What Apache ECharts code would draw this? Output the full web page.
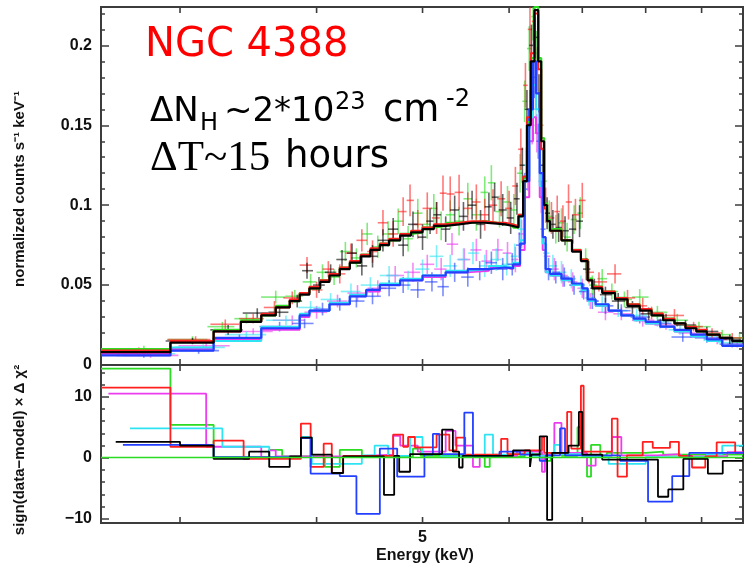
<!DOCTYPE html>
<html>
<head>
<meta charset="utf-8">
<script src="https://cdn.jsdelivr.net/npm/echarts@6/dist/echarts.min.js"></script>
<style>
  html, body { margin: 0; padding: 0; background: #fff; }
  #chart { width: 747px; height: 568px; }
</style>
</head>
<body>
<div id="chart"></div>
<script>
// energy axis (keV, log scale)
var energyTicks = [3, 4, 5, 6, 7, 8, 9];
var energyLabels = [5];
var countTicks = [0, 0.05, 0.1, 0.15, 0.2];
var countMinor = [0.01, 0.02, 0.03, 0.04, 0.06, 0.07, 0.08, 0.09, 0.11, 0.12, 0.13, 0.14, 0.16, 0.17, 0.18, 0.19, 0.21, 0.22];
var chiTicks = [-10, 0, 10];
var chiMinor = [-8, -6, -4, -2, 2, 4, 6, 8, 12, 14];

/* ---- data points: energy, normalized counts, 1 sigma error ---- */
var blackE = [2.75,3.08,3.32,3.53,3.70,3.84,3.92,4.02,4.12,4.22,4.31,4.40,4.50,4.60,4.70,4.80,4.90,5.00,5.08,5.15,5.25,5.35,5.45,5.55,5.65,5.75,5.82,5.92,6.02,6.10,6.17,6.23,6.29,6.34,6.39,6.44,6.50,6.58,6.66,6.75,6.86,6.96,7.06,7.18,7.35,7.55,7.78,8.05,8.35,8.70,9.10,9.55];
var blackF = [0.0085,0.015,0.022,0.0325,0.033,0.040,0.059,0.050,0.058,0.066,0.070,0.062,0.068,0.078,0.085,0.075,0.088,0.080,0.090,0.094,0.085,0.097,0.093,0.100,0.088,0.099,0.105,0.097,0.092,0.104,0.125,0.160,0.200,0.205,0.170,0.125,0.095,0.088,0.086,0.084,0.085,0.090,0.060,0.048,0.044,0.040,0.036,0.032,0.028,0.025,0.021,0.016];
var blackErr = [0.002,0.002,0.003,0.003,0.003,0.004,0.005,0.005,0.005,0.006,0.006,0.006,0.007,0.007,0.007,0.007,0.008,0.008,0.008,0.008,0.008,0.009,0.009,0.009,0.009,0.009,0.009,0.010,0.010,0.010,0.011,0.012,0.013,0.013,0.012,0.011,0.010,0.009,0.009,0.009,0.009,0.010,0.007,0.006,0.005,0.005,0.004,0.004,0.004,0.003,0.003,0.003];

var redE = [2.75,3.10,3.30,3.50,3.66,3.80,3.92,4.00,4.10,4.20,4.30,4.40,4.50,4.60,4.70,4.80,4.87,4.95,5.05,5.15,5.22,5.30,5.40,5.50,5.60,5.70,5.80,5.90,6.00,6.08,6.15,6.21,6.27,6.32,6.37,6.42,6.48,6.56,6.64,6.72,6.80,6.90,7.00,7.10,7.25,7.50,7.70,7.95,8.10,8.50,8.85,9.20,9.60];
var redF = [0.009,0.016,0.0255,0.029,0.036,0.042,0.0625,0.047,0.060,0.057,0.070,0.078,0.071,0.089,0.082,0.096,0.103,0.088,0.098,0.092,0.1075,0.107,0.108,0.098,0.102,0.094,0.100,0.104,0.098,0.112,0.135,0.175,0.210,0.215,0.185,0.150,0.100,0.092,0.096,0.090,0.102,0.094,0.103,0.058,0.052,0.057,0.042,0.037,0.0325,0.031,0.024,0.020,0.017];
var redErr = [0.002,0.002,0.003,0.003,0.004,0.004,0.005,0.005,0.005,0.006,0.006,0.007,0.007,0.008,0.008,0.009,0.010,0.009,0.010,0.010,0.011,0.011,0.011,0.010,0.011,0.010,0.010,0.011,0.011,0.012,0.013,0.014,0.015,0.015,0.014,0.013,0.011,0.010,0.010,0.010,0.011,0.010,0.011,0.007,0.006,0.006,0.005,0.005,0.004,0.004,0.003,0.003,0.003];

var greenE = [2.78,3.08,3.28,3.45,3.67,3.82,3.95,4.05,4.15,4.25,4.35,4.45,4.55,4.65,4.75,4.85,4.95,5.05,5.12,5.20,5.30,5.40,5.50,5.60,5.70,5.78,5.88,5.98,6.06,6.14,6.20,6.26,6.31,6.36,6.41,6.46,6.53,6.62,6.70,6.78,6.88,6.97,7.05,7.15,7.30,7.45,7.65,7.90,8.20,8.55,8.95,9.40,9.75];
var greenF = [0.010,0.016,0.024,0.029,0.0425,0.043,0.052,0.058,0.055,0.071,0.067,0.082,0.074,0.082,0.090,0.079,0.095,0.088,0.098,0.087,0.094,0.090,0.104,0.094,0.108,0.114,0.096,0.102,0.097,0.120,0.165,0.198,0.218,0.195,0.160,0.115,0.093,0.085,0.089,0.080,0.091,0.095,0.066,0.050,0.054,0.046,0.041,0.0425,0.033,0.028,0.024,0.019,0.017];
var greenErr = [0.002,0.002,0.003,0.003,0.004,0.004,0.005,0.005,0.005,0.006,0.006,0.007,0.007,0.008,0.008,0.008,0.009,0.009,0.009,0.009,0.009,0.009,0.010,0.010,0.010,0.011,0.010,0.010,0.010,0.012,0.013,0.014,0.015,0.014,0.013,0.011,0.010,0.009,0.009,0.009,0.009,0.010,0.007,0.006,0.006,0.005,0.005,0.005,0.004,0.004,0.003,0.003,0.003];

var blueE = [2.78,3.12,3.40,3.70,3.90,4.05,4.20,4.35,4.50,4.66,4.80,4.95,5.10,5.22,5.35,5.50,5.64,5.78,5.92,6.04,6.13,6.20,6.27,6.33,6.38,6.44,6.52,6.62,6.74,6.88,7.02,7.15,7.35,7.60,7.90,8.25,8.65,9.10,9.60];
var blueF = [0.006,0.009,0.017,0.024,0.026,0.035,0.038,0.040,0.043,0.048,0.050,0.047,0.052,0.049,0.058,0.055,0.059,0.064,0.060,0.063,0.075,0.110,0.160,0.180,0.140,0.085,0.060,0.058,0.055,0.050,0.046,0.040,0.037,0.034,0.030,0.026,0.0175,0.017,0.013];
var blueErr = [0.0015,0.002,0.002,0.003,0.003,0.004,0.004,0.004,0.005,0.005,0.005,0.005,0.006,0.006,0.006,0.006,0.006,0.007,0.007,0.007,0.008,0.010,0.012,0.013,0.011,0.009,0.007,0.007,0.006,0.006,0.005,0.005,0.005,0.004,0.004,0.003,0.003,0.003,0.002];

var cyanE = [2.80,3.15,3.45,3.75,3.95,4.12,4.30,4.48,4.66,4.85,5.00,5.15,5.30,5.45,5.56,5.70,5.84,5.97,6.07,6.15,6.22,6.29,6.35,6.41,6.48,6.58,6.70,6.84,6.98,7.10,7.30,7.55,7.85,8.20,8.60,9.05,9.55];
var cyanF = [0.007,0.011,0.019,0.028,0.036,0.041,0.046,0.050,0.056,0.053,0.060,0.068,0.062,0.066,0.070,0.062,0.066,0.063,0.068,0.085,0.125,0.165,0.160,0.115,0.070,0.062,0.058,0.054,0.050,0.042,0.038,0.034,0.031,0.027,0.022,0.018,0.014];
var cyanErr = [0.0015,0.002,0.002,0.003,0.004,0.004,0.005,0.005,0.006,0.006,0.006,0.007,0.007,0.007,0.007,0.007,0.007,0.007,0.008,0.009,0.011,0.012,0.012,0.010,0.008,0.007,0.007,0.006,0.006,0.005,0.005,0.004,0.004,0.003,0.003,0.003,0.002];

var magentaE = [2.82,3.17,3.50,3.80,4.00,4.18,4.36,4.55,4.72,4.90,5.05,5.20,5.32,5.46,5.60,5.72,5.86,5.98,6.08,6.16,6.24,6.30,6.36,6.42,6.49,6.60,6.72,6.86,7.00,7.12,7.35,7.60,7.95,8.35,8.80,9.30,9.70];
var magentaF = [0.006,0.012,0.021,0.028,0.033,0.040,0.045,0.048,0.056,0.058,0.063,0.060,0.0756,0.066,0.072,0.065,0.072,0.070,0.066,0.082,0.120,0.150,0.145,0.105,0.068,0.060,0.056,0.052,0.048,0.040,0.033,0.032,0.028,0.025,0.020,0.016,0.013];
var magentaErr = [0.0015,0.002,0.002,0.003,0.004,0.004,0.005,0.005,0.006,0.006,0.006,0.007,0.007,0.007,0.007,0.007,0.007,0.007,0.008,0.009,0.011,0.012,0.012,0.010,0.008,0.007,0.007,0.006,0.006,0.005,0.005,0.004,0.004,0.003,0.003,0.003,0.002];

/* ---- folded models (step), bin edges + values ---- */
var hiEdges = [2.54,2.94,3.22,3.41,3.56,3.67,3.78,3.86,3.94,4.03,4.11,4.20,4.29,4.39,4.48,4.57,4.66,4.77,4.88,5.00,5.12,5.25,5.40,5.55,5.70,5.85,5.95,6.05,6.12,6.18,6.23,6.28,6.33,6.38,6.42,6.46,6.50,6.54,6.70,6.85,6.98,7.08,7.15,7.30,7.50,7.70,7.90,8.10,8.30,8.50,8.70,8.90,9.10,9.35,9.60,9.82];
var modelBlack = [0.008,0.014,0.021,0.027,0.031,0.036,0.040,0.044,0.048,0.052,0.056,0.060,0.064,0.068,0.072,0.075,0.078,0.081,0.083,0.085,0.087,0.088,0.089,0.089,0.0885,0.088,0.087,0.086,0.093,0.115,0.150,0.190,0.222,0.190,0.140,0.100,0.090,0.084,0.078,0.071,0.065,0.053,0.048,0.045,0.041,0.037,0.034,0.031,0.028,0.026,0.023,0.021,0.019,0.017,0.015];
var modelRed = [0.009,0.015,0.021,0.027,0.032,0.036,0.041,0.045,0.049,0.053,0.057,0.061,0.065,0.069,0.073,0.076,0.079,0.082,0.084,0.086,0.088,0.089,0.090,0.090,0.089,0.089,0.088,0.087,0.094,0.118,0.155,0.195,0.220,0.185,0.135,0.098,0.090,0.084,0.078,0.072,0.066,0.053,0.049,0.046,0.042,0.038,0.035,0.032,0.029,0.026,0.024,0.022,0.019,0.017,0.015];
var modelGreen = [0.010,0.015,0.022,0.028,0.031,0.037,0.040,0.045,0.048,0.053,0.056,0.061,0.064,0.069,0.072,0.076,0.078,0.082,0.083,0.086,0.087,0.089,0.089,0.090,0.089,0.088,0.088,0.086,0.094,0.117,0.152,0.192,0.224,0.192,0.142,0.101,0.091,0.085,0.078,0.072,0.066,0.054,0.049,0.046,0.042,0.038,0.035,0.031,0.029,0.026,0.024,0.021,0.019,0.017,0.015];

var loEdges = [2.54,2.94,3.22,3.56,3.86,3.94,4.11,4.29,4.44,4.57,4.77,5.00,5.25,5.50,5.75,5.95,6.05,6.14,6.20,6.26,6.31,6.35,6.40,6.44,6.48,6.54,6.70,6.85,7.00,7.08,7.20,7.40,7.60,7.80,8.00,8.25,8.50,8.80,9.10,9.40,9.82];
var modelBlue = [0.006,0.009,0.017,0.023,0.031,0.034,0.038,0.043,0.047,0.050,0.053,0.056,0.058,0.060,0.061,0.0605,0.063,0.076,0.115,0.160,0.190,0.170,0.120,0.080,0.060,0.057,0.054,0.051,0.048,0.041,0.038,0.034,0.031,0.029,0.027,0.024,0.022,0.019,0.016,0.012];
var modelCyan = [0.009,0.011,0.015,0.024,0.032,0.034,0.039,0.044,0.047,0.051,0.054,0.056,0.059,0.060,0.062,0.061,0.064,0.078,0.118,0.155,0.175,0.160,0.112,0.076,0.058,0.056,0.053,0.050,0.047,0.040,0.037,0.034,0.031,0.028,0.026,0.024,0.021,0.018,0.015,0.012];
var modelMagenta = [0.007,0.010,0.016,0.022,0.030,0.034,0.038,0.043,0.046,0.050,0.053,0.055,0.058,0.059,0.061,0.060,0.062,0.072,0.105,0.140,0.155,0.145,0.105,0.072,0.058,0.056,0.053,0.050,0.047,0.040,0.037,0.034,0.031,0.028,0.026,0.024,0.021,0.019,0.016,0.012];

/* ---- residuals sign(data-model) x delta chi^2, bin edges + values ---- */
var resRedE = [2.54,2.94,3.22,3.43,3.87,3.95,4.06,4.13,4.23,4.70,4.80,4.85,4.92,5.15,5.29,5.37,5.47,5.90,5.98,6.20,6.43,6.46,6.78,6.84,6.98,7.02,7.45,7.54,7.69,7.95,8.12,8.42,8.58,8.82,9.07,9.29,9.66,9.82];
var resRedV = [11.5,1.8,2.8,-0.2,5.6,-1.5,2.3,-2.5,0.3,3.8,1.8,3.4,1.7,3.8,1.2,3.3,0.5,3.1,0.6,1.2,3.4,0.8,7.5,1.5,11.8,1.0,6.4,-3.1,0.4,2.6,1.6,2.6,0.3,-1.6,0.2,2.5,0.8];
var resBlackE = [2.62,3.00,3.22,3.47,3.62,3.78,3.87,3.96,4.13,4.23,4.61,4.71,4.76,4.87,5.21,5.33,5.40,5.44,6.05,6.27,6.29,6.40,6.50,6.57,6.80,6.95,7.00,7.30,8.21,8.39,8.66,9.12,9.41,9.82];
var resBlackV = [2.6,2.0,-0.2,1.0,-1.5,0.2,3.3,0.5,-2.5,0.2,-6.1,0.3,-2.3,0.6,4.6,1.0,-1.6,0.3,1.2,-1.5,0.5,3.5,-10.2,0.8,2.0,7.5,0.5,-0.3,-6.4,-5.2,-0.2,-2.6,-0.5];
var resGreenE = [2.54,2.94,3.22,3.62,3.72,4.07,4.20,4.40,4.90,4.98,5.70,5.76,6.20,6.45,6.55,6.70,6.93,7.00,7.07,7.13,7.27,7.37,8.00,8.30,9.82];
var resGreenV = [14.6,5.4,0.1,1.3,0.2,-1.5,1.3,0.2,1.5,0.3,-1.5,0.2,0.6,-0.5,0.8,0.3,5.0,0.3,-3.1,2.1,0.4,0.8,1.0,0.5];
var resMagentaE = [2.58,3.17,3.56,3.62,3.67,4.30,4.70,4.77,4.95,5.25,5.36,5.56,5.64,6.10,6.43,6.47,6.60,6.70,7.07,7.20,7.45,7.60,8.20,8.60,9.50,9.82];
var resMagentaV = [10.5,1.8,0.1,1.2,0.2,0.5,3.6,2.0,1.0,4.4,2.0,-1.5,0.3,1.0,-2.3,0.5,5.7,0.8,-1.3,0.3,3.4,0.4,0.6,0.2,0.9];
var resCyanE = [2.70,3.28,3.62,3.87,3.96,4.40,4.52,4.65,4.87,5.00,5.20,5.70,5.80,5.95,6.30,6.60,6.68,7.00,7.40,8.00,9.10,9.40,9.82];
var resCyanV = [4.8,1.8,0.1,3.4,-1.0,0.4,2.0,0.3,3.4,0.6,0.2,3.8,0.5,0.8,0.3,2.1,0.6,0.2,-1.0,0.1,0.6,2.0];
var resBlueE = [2.66,3.22,3.87,3.95,4.20,4.35,4.57,4.74,5.02,5.11,5.18,5.46,5.56,5.88,6.14,6.40,6.48,6.68,6.75,7.58,8.04,8.46,8.77,9.82];
var resBlueV = [2.1,0.1,3.2,-2.6,-3.0,-9.2,1.5,-3.1,0.5,3.9,0.6,7.4,0.2,1.0,0.5,-0.5,0.4,4.8,0.4,-0.5,-7.2,-3.0,0.8];

var COL = {
  black: '#000000', red: '#ff1f1f', green: '#2bdc22',
  blue: '#2340ff', cyan: '#2fe4f2', magenta: '#ec3cf0'
};
var TXT = '#111';
var AX = '#3c3c3c';
var LABEL_FONT = 'Liberation Sans';

/* data crosses: horizontal bar = bin, vertical bar = error */
function crossSeries(es, fs, errs, color) {
  var n = Math.min(es.length, fs.length, errs.length);
  var data = [];
  for (var i = 0; i < n; i++) data.push([es[i], fs[i], errs[i]]);
  return {
    type: 'custom', xAxisIndex: 0, yAxisIndex: 0, silent: true, clip: true, z: 2,
    animation: false, data: data,
    renderItem: function (params, api) {
      var i = params.dataIndex;
      var e = api.value(0), f = api.value(1), s = api.value(2);
      var c = api.coord([e, f]);
      var lo = api.coord([e, f - s])[1];
      var hi = api.coord([e, f + s])[1];
      var l = i > 0 ? api.coord([Math.sqrt(data[i - 1][0] * e), f])[0] : null;
      var r = i < n - 1 ? api.coord([Math.sqrt(data[i + 1][0] * e), f])[0] : null;
      if (l === null) l = c[0] - (r - c[0]);
      if (r === null) r = c[0] + (c[0] - l);
      var st = { stroke: color, lineWidth: 1.6, opacity: 0.6 };
      return {
        type: 'group',
        children: [
          { type: 'line', shape: { x1: l, y1: c[1], x2: r, y2: c[1] }, style: st },
          { type: 'line', shape: { x1: c[0], y1: lo, x2: c[0], y2: hi }, style: st }
        ]
      };
    }
  };
}

function stepSeries(edges, vals, color, width, xi, yi, z) {
  var n = Math.min(vals.length, edges.length - 1);
  var pts = [];
  for (var i = 0; i < n; i++) pts.push([edges[i], vals[i]]);
  pts.push([edges[n], vals[n - 1]]);
  return {
    type: 'line', step: 'end', data: pts, xAxisIndex: xi, yAxisIndex: yi,
    showSymbol: false, symbol: 'none', silent: true, animation: false, z: z,
    lineStyle: { color: color, width: width }
  };
}

/* energy ticks on top and bottom edge of each panel */
function energyTickSeries(xi, yi, yRef) {
  return {
    type: 'custom', xAxisIndex: xi, yAxisIndex: yi, silent: true, z: 10, animation: false,
    data: energyTicks.map(function (e) { return [e, yRef]; }),
    renderItem: function (params, api) {
      var cs = params.coordSys;
      var e = api.value(0);
      var x = api.coord([e, yRef])[0];
      var st = { stroke: AX, lineWidth: 1.6 };
      var kids = [
        { type: 'line', shape: { x1: x, y1: cs.y, x2: x, y2: cs.y + 6 }, style: st },
        { type: 'line', shape: { x1: x, y1: cs.y + cs.height, x2: x, y2: cs.y + cs.height - 6 }, style: st }
      ];
      if (xi === 1 && energyLabels.indexOf(e) >= 0) {
        kids.push({
          type: 'text',
          style: {
            text: String(e), x: x, y: cs.y + cs.height + 15,
            align: 'center', verticalAlign: 'middle', textAlign: 'center', textVerticalAlign: 'middle',
            font: 'bold 16px "' + LABEL_FONT + '"', fill: TXT
          }
        });
      }
      return { type: 'group', children: kids };
    }
  };
}

function yAx(grid, pos, min, max, ticks, len, labels, fmt) {
  return {
    type: 'value', gridIndex: grid, position: pos, min: min, max: max,
    axisLine: { show: false }, splitLine: { show: false },
    axisTick: { show: true, inside: true, length: len, customValues: ticks, lineStyle: { color: AX, width: 1.5 } },
    axisLabel: {
      show: labels, customValues: ticks, margin: 9, fontSize: 16, fontWeight: 'bold',
      fontFamily: LABEL_FONT, color: TXT, formatter: fmt
    }
  };
}

function chiFmt(v) { return String(v).replace('-', '\u2212'); }

var xMin = 2.54, xMax = 9.82;
var fluxMax = 0.224;
var chiMin = -10.7, chiMax = 15.2;

var chart = echarts.init(document.getElementById('chart'));

var option = {
  backgroundColor: '#ffffff',
  animation: false,
  grid: [
    { left: 101, right: 4, top: 7, height: 358, show: true, borderColor: AX, borderWidth: 2, backgroundColor: 'transparent' },
    { left: 101, right: 4, top: 365, height: 158, show: true, borderColor: AX, borderWidth: 2, backgroundColor: 'transparent' }
  ],
  xAxis: [
    { type: 'log', gridIndex: 0, min: xMin, max: xMax, axisLine: { show: false }, axisTick: { show: false }, axisLabel: { show: false }, splitLine: { show: false } },
    { type: 'log', gridIndex: 1, min: xMin, max: xMax, axisLine: { show: false }, axisTick: { show: false }, axisLabel: { show: false }, splitLine: { show: false } }
  ],
  yAxis: [
    yAx(0, 'left', 0, fluxMax, countTicks, 8, true),
    yAx(0, 'left', 0, fluxMax, countMinor, 4, false),
    yAx(0, 'right', 0, fluxMax, countTicks, 8, false),
    yAx(0, 'right', 0, fluxMax, countMinor, 4, false),
    yAx(1, 'left', chiMin, chiMax, chiTicks, 8, true, chiFmt),
    yAx(1, 'left', chiMin, chiMax, chiMinor, 4, false),
    yAx(1, 'right', chiMin, chiMax, chiTicks, 8, false),
    yAx(1, 'right', chiMin, chiMax, chiMinor, 4, false)
  ],
  graphic: [
    { type: 'text', left: 145, top: 26, style: { text: 'NGC 4388', font: '40px "DejaVu Sans"', fill: '#ff0000' } },
    { type: 'text', left: 150, top: 95, style: { text: '\u0394N', font: '34px "DejaVu Sans"', fill: '#000' } },
    { type: 'text', left: 200, top: 112, style: { text: 'H', font: '24px "DejaVu Sans"', fill: '#000' } },
    { type: 'text', left: 224, top: 95, style: { text: '~2*10', font: '34px "DejaVu Sans"', fill: '#000' } },
    { type: 'text', left: 335, top: 91, style: { text: '23', font: '24px "DejaVu Sans"', fill: '#000' } },
    { type: 'text', left: 383, top: 93, style: { text: 'cm', font: '37px "DejaVu Sans"', fill: '#000' } },
    { type: 'text', left: 446, top: 88, style: { text: '-2', font: '24px "DejaVu Sans"', fill: '#000' } },
    { type: 'text', left: 150, top: 137, style: { text: '\u0394T~15', font: '43px "Liberation Serif"', fill: '#000' } },
    { type: 'text', left: 285, top: 139, style: { text: 'hours', font: '37px "DejaVu Sans"', fill: '#000' } },
    {
      type: 'text', x: 20, y: 189, rotation: Math.PI / 2,
      style: { text: 'normalized counts s\u207B\u00B9 keV\u207B\u00B9', font: 'bold 15px "' + LABEL_FONT + '"', fill: TXT, align: 'center', verticalAlign: 'middle', textAlign: 'center', textVerticalAlign: 'middle' }
    },
    {
      type: 'text', x: 20, y: 450, rotation: Math.PI / 2,
      style: { text: 'sign(data\u2212model) \u00D7 \u0394 \u03C7\u00B2', font: 'bold 15px "' + LABEL_FONT + '"', fill: TXT, align: 'center', verticalAlign: 'middle', textAlign: 'center', textVerticalAlign: 'middle' }
    },
    {
      type: 'text', x: 425, y: 556,
      style: { text: 'Energy (keV)', font: 'bold 16px "' + LABEL_FONT + '"', fill: TXT, align: 'center', verticalAlign: 'middle', textAlign: 'center', textVerticalAlign: 'middle' }
    }
  ],
  series: [
    // data crosses
    crossSeries(magentaE, magentaF, magentaErr, COL.magenta),
    crossSeries(cyanE, cyanF, cyanErr, COL.cyan),
    crossSeries(blueE, blueF, blueErr, COL.blue),
    crossSeries(greenE, greenF, greenErr, COL.green),
    crossSeries(redE, redF, redErr, COL.red),
    crossSeries(blackE, blackF, blackErr, COL.black),
    // models
    stepSeries(loEdges, modelMagenta, COL.magenta, 2, 0, 0, 3),
    stepSeries(loEdges, modelCyan, COL.cyan, 2, 0, 0, 3),
    stepSeries(loEdges, modelBlue, COL.blue, 2.2, 0, 0, 3),
    stepSeries(hiEdges, modelGreen, COL.green, 2.2, 0, 0, 4),
    stepSeries(hiEdges, modelRed, COL.red, 2, 0, 0, 4),
    stepSeries(hiEdges, modelBlack, COL.black, 2.2, 0, 0, 4),
    // residuals
    (function () {
      var s = stepSeries(resGreenE, resGreenV, COL.green, 1.8, 1, 4, 3);
      s.markLine = {
        silent: true, symbol: 'none', label: { show: false },
        lineStyle: { color: COL.green, width: 1.4, type: 'solid' },
        data: [{ yAxis: 0 }]
      };
      return s;
    })(),
    stepSeries(resMagentaE, resMagentaV, COL.magenta, 1.8, 1, 4, 3),
    stepSeries(resCyanE, resCyanV, COL.cyan, 1.8, 1, 4, 3),
    stepSeries(resRedE, resRedV, COL.red, 1.8, 1, 4, 3),
    stepSeries(resBlueE, resBlueV, COL.blue, 1.8, 1, 4, 3),
    stepSeries(resBlackE, resBlackV, COL.black, 1.8, 1, 4, 3),
    // energy ticks
    energyTickSeries(0, 0, 0.1),
    energyTickSeries(1, 4, 0)
  ]
};

chart.setOption(option);
</script>
</body>
</html>
